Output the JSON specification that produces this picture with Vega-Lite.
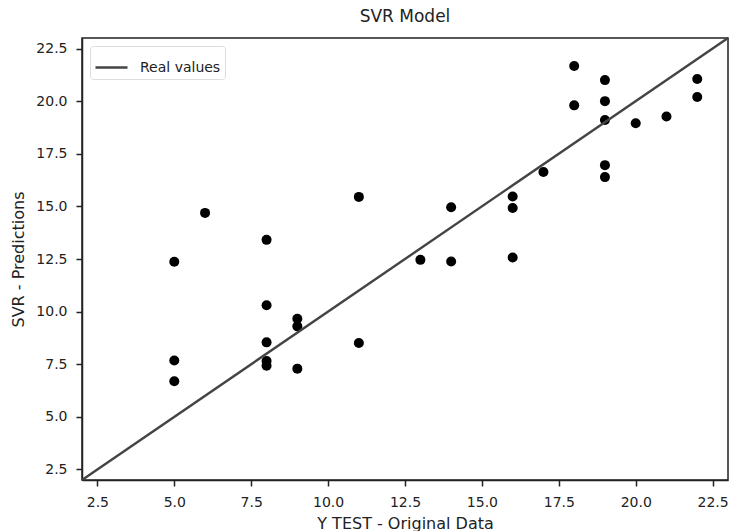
{
  "$schema": "https://vega.github.io/schema/vega-lite/v6.json",
  "width": 646,
  "height": 442,
  "autosize": "none",
  "padding": {"left": 82, "top": 38, "right": 2, "bottom": 51},
  "background": "white",
  "title": {"text": "SVR Model", "fontSize": 17, "font": "DejaVu Sans", "fontWeight": "normal", "color": "#222", "offset": 7, "anchor": "middle"},
  "datasets": {
    "line": [
      {"x": 2, "y": 2, "series": "Real values"},
      {"x": 23, "y": 23, "series": "Real values"}
    ],
    "pts": [
      {"actual": 5, "pred": 12.37}, {"actual": 6, "pred": 14.69}, {"actual": 8, "pred": 13.41}, {"actual": 11, "pred": 15.45},
      {"actual": 18, "pred": 21.67}, {"actual": 19, "pred": 21.0}, {"actual": 22, "pred": 21.05}, {"actual": 18, "pred": 19.8},
      {"actual": 19, "pred": 20.0}, {"actual": 22, "pred": 20.2}, {"actual": 19, "pred": 19.1}, {"actual": 20, "pred": 18.95},
      {"actual": 21, "pred": 19.27}, {"actual": 19, "pred": 16.96}, {"actual": 19, "pred": 16.39}, {"actual": 17, "pred": 16.63},
      {"actual": 16, "pred": 15.47}, {"actual": 16, "pred": 14.92}, {"actual": 14, "pred": 14.96}, {"actual": 13, "pred": 12.46},
      {"actual": 14, "pred": 12.38}, {"actual": 16, "pred": 12.57}, {"actual": 8, "pred": 10.3}, {"actual": 9, "pred": 9.66},
      {"actual": 9, "pred": 9.3}, {"actual": 8, "pred": 8.54}, {"actual": 11, "pred": 8.51}, {"actual": 5, "pred": 7.68},
      {"actual": 8, "pred": 7.65}, {"actual": 8, "pred": 7.43}, {"actual": 9, "pred": 7.29}, {"actual": 5, "pred": 6.69}
    ]
  },
  "layer": [
    {
      "data": {"name": "pts"},
      "mark": {"type": "point", "filled": true, "color": "black", "opacity": 1, "size": 100},
      "encoding": {
        "x": {"field": "actual", "type": "quantitative", "scale": {"domain": [2, 23], "nice": false, "zero": false}, "title": "Y TEST - Original Data",
              "axis": {"values": [2.5, 5, 7.5, 10, 12.5, 15, 17.5, 20, 22.5], "format": ".1f"}},
        "y": {"field": "pred", "type": "quantitative", "scale": {"domain": [2, 23], "nice": false, "zero": false}, "title": "SVR - Predictions",
              "axis": {"values": [2.5, 5, 7.5, 10, 12.5, 15, 17.5, 20, 22.5], "format": ".1f"}}
      }
    },
    {
      "data": {"name": "line"},
      "mark": {"type": "line", "strokeWidth": 2.4},
      "encoding": {
        "x": {"field": "x", "type": "quantitative"},
        "y": {"field": "y", "type": "quantitative"},
        "color": {"field": "series", "type": "nominal", "scale": {"domain": ["Real values"], "range": ["#444444"]},
                  "legend": {"title": null, "orient": "top-left", "offset": 8, "symbolType": "stroke", "symbolSize": 1024, "symbolStrokeWidth": 2.4,
                             "labelFontSize": 14, "labelFont": "DejaVu Sans", "labelColor": "#222", "labelOffset": 11,
                             "padding": 4, "strokeColor": "#dddddd", "fillColor": "white", "cornerRadius": 3}}
      }
    }
  ],
  "config": {
    "view": {"stroke": "#222", "strokeWidth": 1.5},
    "axis": {
      "grid": false,
      "domainColor": "#222", "domainWidth": 1.5,
      "tickColor": "#222", "tickWidth": 1.5, "tickSize": 6,
      "labelFont": "DejaVu Sans", "labelFontSize": 14, "labelColor": "#222", "labelPadding": 9,
      "titleFont": "DejaVu Sans", "titleFontSize": 16, "titleFontWeight": "normal", "titleColor": "#222"
    },
    "axisX": {"titlePadding": 6},
    "axisY": {"titlePadding": 9}
  }
}
